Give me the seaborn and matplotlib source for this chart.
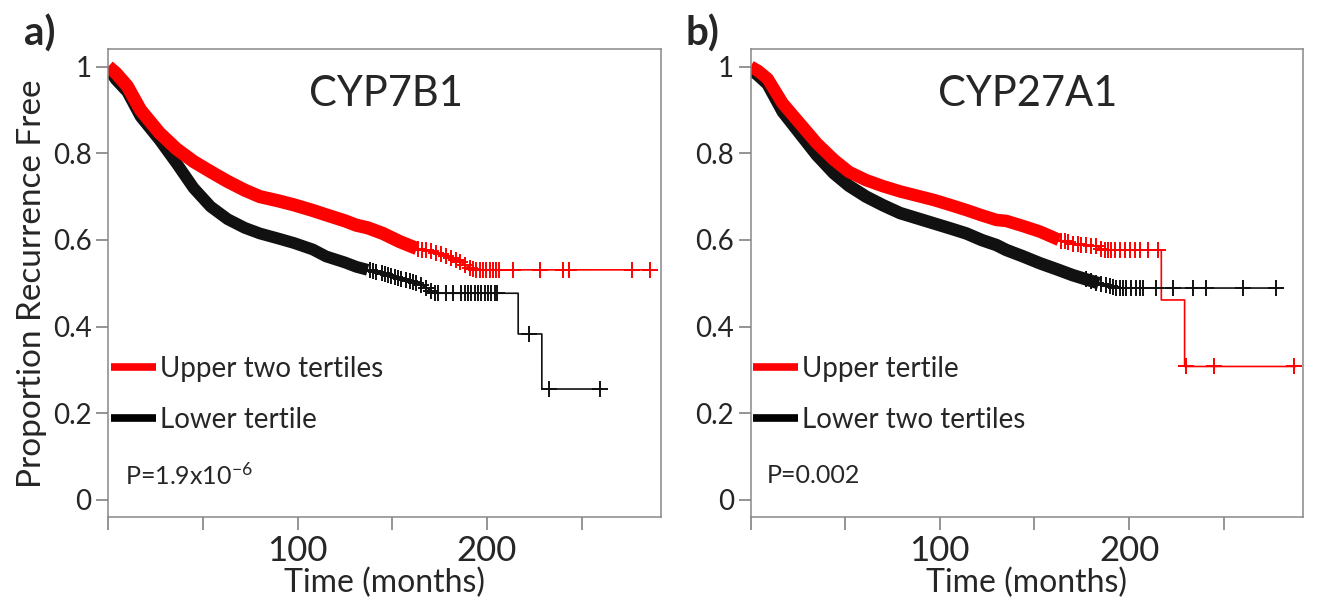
import numpy as np
import matplotlib
matplotlib.use("Agg")
import matplotlib.pyplot as plt
from matplotlib.lines import Line2D
import seaborn as sns

# ---- data (months, proportion recurrence free) ----
# panel a) CYP7B1
a_up_t = [0, 4, 10, 17, 27, 36, 45, 55, 63, 72, 80, 90, 98, 108, 115, 125, 131,
          137, 145, 154, 163, 172, 184, 193, 286]
a_up_s = [1.0, 0.985, 0.955, 0.90, 0.847, 0.81, 0.781, 0.755, 0.735, 0.715, 0.70,
          0.69, 0.681, 0.668, 0.658, 0.644, 0.634, 0.628, 0.615, 0.596, 0.58,
          0.573, 0.554, 0.531, 0.531]
a_up_cens = [163.6, 165.9, 168.0, 170.6, 173.3, 175.9, 178.6, 181.2, 183.9, 185.6,
             188.2, 190.9, 192.6, 194.4, 196.2, 197.9, 199.7, 201.4, 203.2, 205.0,
             206.3, 213.7, 227.8, 240.1, 243.3, 276.7, 285.9]

a_lo_t = [0, 4, 10, 17, 27, 36, 45, 54, 63, 72, 80, 90, 98, 108, 115, 125, 131,
          137, 154, 163, 168, 172, 216.5, 216.5, 229, 229, 260.5]
a_lo_s = [0.995, 0.97, 0.942, 0.885, 0.831, 0.777, 0.72, 0.677, 0.648, 0.628, 0.615,
          0.603, 0.593, 0.578, 0.562, 0.548, 0.538, 0.531, 0.512, 0.50, 0.49,
          0.477, 0.477, 0.383, 0.383, 0.256, 0.256]
a_lo_cens = [138.1, 139.8, 141.6, 144.3, 146.0, 147.8, 149.5, 151.3, 153.0, 154.8,
             157.1, 159.2, 161.0, 162.7, 165.4, 168.0, 170.6, 172.4, 174.2, 178.6,
             182.1, 186.5, 188.2, 190.0, 191.8, 193.5, 195.3, 197.0, 198.8, 200.5,
             202.3, 204.1, 205.3, 222.2, 232.7, 259.9]

# panel b) CYP27A1
b_up_t = [0, 4, 9, 17, 26, 35, 44, 52, 61, 70, 79, 88, 97, 106, 114, 122, 130,
          135, 144, 153, 163, 170, 183, 186, 217, 217, 229.3, 229.3, 288]
b_up_s = [1.0, 0.99, 0.972, 0.915, 0.869, 0.823, 0.785, 0.757, 0.738, 0.724, 0.712,
          0.702, 0.692, 0.68, 0.669, 0.657, 0.646, 0.644, 0.632, 0.619, 0.60,
          0.592, 0.585, 0.577, 0.577, 0.4615, 0.4615, 0.308, 0.308]
b_up_cens = [164.2, 166.0, 167.7, 170.4, 173.0, 174.8, 177.4, 180.0, 182.7, 185.3,
             187.1, 188.8, 190.6, 192.3, 195.0, 197.6, 200.3, 202.9, 205.5, 209.9,
             215.2, 229.8, 244.6, 287.3]

b_lo_t = [0, 4, 9, 17, 26, 35, 44, 52, 61, 70, 79, 88, 97, 106, 114, 122, 130,
          135, 144, 153, 162, 170, 184, 193, 280]
b_lo_s = [0.995, 0.98, 0.96, 0.896, 0.846, 0.796, 0.754, 0.725, 0.70, 0.68, 0.662,
          0.65, 0.638, 0.626, 0.615, 0.60, 0.588, 0.577, 0.562, 0.546, 0.532,
          0.519, 0.50, 0.489, 0.489]
b_lo_cens = [177.4, 180.0, 182.7, 185.3, 188.0, 189.7, 191.5, 193.2, 195.0, 196.7,
             198.5, 201.1, 203.8, 205.5, 207.3, 214.4, 223.1, 233.7, 240.7, 260.4,
             277.7]

genes = ["CYP7B1", "CYP27A1"]
panel_tags = ["a)", "b)"]
legend_labels = [["Upper two tertiles", "Lower tertile"],
                 ["Upper tertile", "Lower two tertiles"]]
p_values = ["P=1.9x10$^{-6}$", "P=0.002"]

x_ticks = [0, 50, 100, 150, 200, 250]
x_ticklabels = ["", "", "100", "", "200", ""]
y_ticks = [0, 0.2, 0.4, 0.6, 0.8, 1.0]
y_ticklabels = ["0", "0.2", "0.4", "0.6", "0.8", "1"]

RED = "#ff0000"
BLACK = "#111111"

sns.set_theme(style="ticks")
plt.rcParams["font.family"] = ["Lato", "DejaVu Sans"]
plt.rcParams["mathtext.fontset"] = "custom"
plt.rcParams["mathtext.rm"] = "Lato"
plt.rcParams["mathtext.it"] = "Lato:italic"


def draw_curve(ax, t, s, cens, band_end, color, band_lw):
    t = np.asarray(t, float)
    s = np.asarray(s, float)
    # thin km line over the whole follow-up
    sns.lineplot(x=t, y=s, ax=ax, color=color, lw=1.2, sort=False, estimator=None)
    # dense censoring at early times shows as a thick band
    m = t <= band_end
    sns.lineplot(x=t[m], y=s[m], ax=ax, color=color, lw=band_lw, sort=False,
                 estimator=None, solid_capstyle="butt", solid_joinstyle="round")
    ct = np.asarray(cens, float)
    cs = np.interp(ct, t, s)
    sns.scatterplot(x=ct, y=cs, ax=ax, marker="+", s=120, color=color,
                    linewidth=1.4, zorder=3)


fig = plt.figure(figsize=(13.23, 6.06), dpi=100)
ax_a = fig.add_axes([0.0819, 0.1464, 0.4178, 0.7723])
ax_b = fig.add_axes([0.5673, 0.1464, 0.4178, 0.7723])

curves = [
    [(a_lo_t, a_lo_s, a_lo_cens, 137, BLACK, 8.5),
     (a_up_t, a_up_s, a_up_cens, 163, RED, 9.5)],
    [(b_lo_t, b_lo_s, b_lo_cens, 184, BLACK, 9.0),
     (b_up_t, b_up_s, b_up_cens, 163, RED, 9.0)],
]

for i, ax in enumerate([ax_a, ax_b]):
    for c in curves[i]:
        draw_curve(ax, *c)

    ax.set_xlim(0, 292)
    ax.set_ylim(-0.04, 1.04)
    ax.set_xticks(x_ticks)
    ax.set_xticklabels(x_ticklabels, fontsize=25)
    ax.set_yticks(y_ticks)
    ax.set_yticklabels(y_ticklabels, fontsize=20)
    ax.tick_params(axis="both", direction="out", length=9, width=1.1,
                   color="#777777", pad=3)
    ax.tick_params(axis="x", pad=4)
    for sp in ax.spines.values():
        sp.set_visible(True)
        sp.set_color("#888888")
        sp.set_linewidth(1.1)
    ax.set_xlabel("Time (months)", fontsize=23, labelpad=0)
    ax.set_ylabel("")

    ax.text(0.502, 0.905, genes[i], transform=ax.transAxes, ha="center",
            va="center", fontsize=30)

    handles = [Line2D([], [], color=RED, lw=5.5, solid_capstyle="butt"),
               Line2D([], [], color="black", lw=5.5, solid_capstyle="butt")]
    ax.legend(handles, legend_labels[i], loc="center left",
              bbox_to_anchor=(0.005, 0.262), frameon=False, fontsize=20,
              handlelength=1.6, handletextpad=0.15, labelspacing=0.9,
              borderpad=0, borderaxespad=0)

    ax.text(0.03, 0.09, p_values[i], transform=ax.transAxes, ha="left",
            va="center", fontsize=18)

ax_a.set_ylabel("Proportion Recurrence Free", fontsize=24, labelpad=4)

fig.text(0.030, 0.945, panel_tags[0], fontsize=29, fontweight="bold",
         ha="center", va="center")
fig.text(0.531, 0.945, panel_tags[1], fontsize=29, fontweight="bold",
         ha="center", va="center")

fig.savefig("out.png", dpi=100)
